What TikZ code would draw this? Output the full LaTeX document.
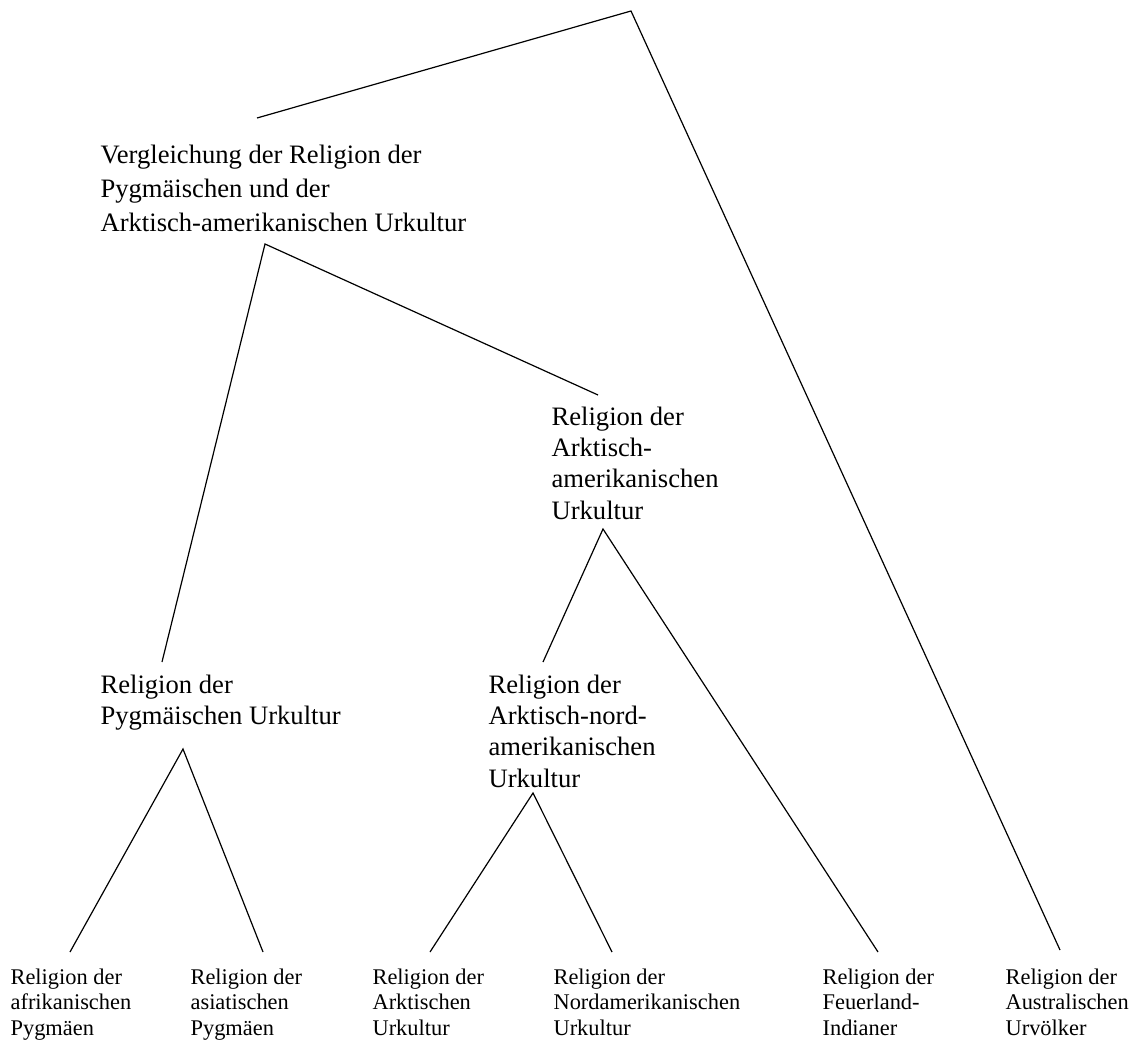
\documentclass[tikz,border=0pt]{standalone}
\usepackage{fontspec}
\setmainfont{Liberation Serif}
\begin{document}
\begin{tikzpicture}[x=0.5pt,y=-0.5pt,line width=0.6pt,
  upper/.style={anchor=north west,inner sep=0pt,align=left,font=\fontsize{13.3}{15.7}\selectfont},
  leaf/.style={anchor=north west,inner sep=0pt,align=left,font=\fontsize{11.2}{12.8}\selectfont}]
\useasboundingbox (0,0) rectangle (1138,1042);
% inner nodes
\node[upper,font=\fontsize{13.3}{17.2}\selectfont] (vgl) at (100,144)
  {Vergleichung der Religion der\\Pygm\"aischen und der\\Arktisch-amerikanischen Urkultur};
\node[upper] (arkam) at (551,406) {Religion der\\Arktisch-\\amerikanischen\\Urkultur};
\node[upper] (pyg) at (100,674) {Religion der\\Pygm\"aischen Urkultur};
\node[upper] (arkna) at (488,674) {Religion der\\Arktisch-nord-\\amerikanischen\\Urkultur};
% leaves
\node[leaf] (afr) at (10,968) {Religion der\\afrikanischen\\Pygm\"aen};
\node[leaf] (asi) at (190,968) {Religion der\\asiatischen\\Pygm\"aen};
\node[leaf] (ark) at (372,968) {Religion der\\Arktischen\\Urkultur};
\node[leaf] (nord) at (553,968) {Religion der\\Nordamerikanischen\\Urkultur};
\node[leaf] (feuer) at (822,968) {Religion der\\Feuerland-\\Indianer};
\node[leaf] (austr) at (1005,968) {Religion der\\Australischen\\Urv\"olker};
% line ends
\coordinate (top) at (631,11);
\coordinate (vgl-in) at (257,118);
\coordinate (vgl-out) at (265,244);
\coordinate (arkam-in) at (598,395);
\coordinate (arkam-out) at (603,529);
\coordinate (pyg-in) at (162,662);
\coordinate (pyg-out) at (183,749);
\coordinate (arkna-in) at (543,662);
\coordinate (arkna-out) at (533,793);
\coordinate (afr-in) at (70,952);
\coordinate (asi-in) at (263,952);
\coordinate (ark-in) at (430,952);
\coordinate (nord-in) at (612,952);
\coordinate (feuer-in) at (878,952);
\coordinate (austr-in) at (1060,950);
\draw (vgl-in) -- (top) -- (austr-in)
  (pyg-in) -- (vgl-out) -- (arkam-in)
  (arkna-in) -- (arkam-out) -- (feuer-in)
  (afr-in) -- (pyg-out) -- (asi-in)
  (ark-in) -- (arkna-out) -- (nord-in);
\end{tikzpicture}
\end{document}
